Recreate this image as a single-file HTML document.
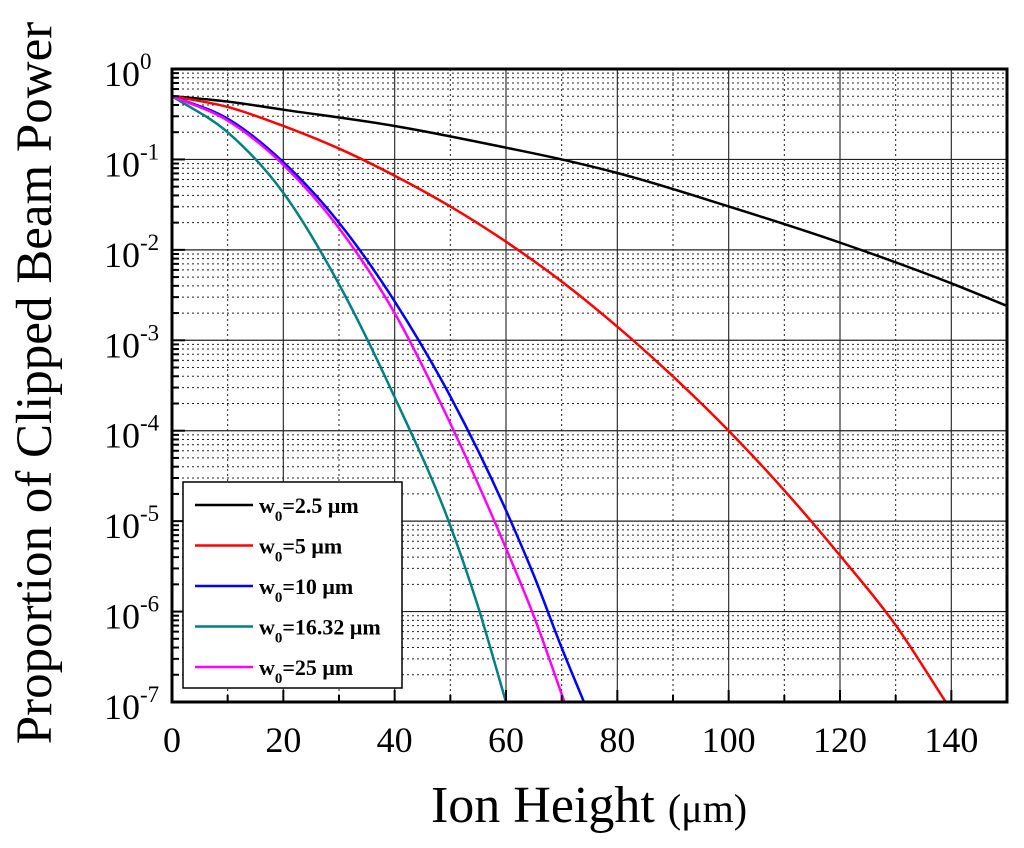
<!DOCTYPE html>
<html><head><meta charset="utf-8"><style>
body{margin:0;background:#fff;}
svg text{font-family:"Liberation Serif",serif;}
</style></head><body>
<svg id="chart" width="1024" height="843" viewBox="0 0 1024 843" xmlns="http://www.w3.org/2000/svg">
<g id="grid"></g>
<g id="series"></g>
<g id="axes"></g>
<text x="589" y="822" text-anchor="middle" font-size="52">Ion Height <tspan font-size="40">(μm)</tspan></text>
<text transform="translate(51,383) rotate(-90)" text-anchor="middle" font-size="51">Proportion of Clipped Beam Power</text>
<g id="legend"></g>
</svg>
<script>
const xTicks=[0,20,40,60,80,100,120,140];
const yDecades=[0,-1,-2,-3,-4,-5,-6,-7];
const seriesNames=["w0=2.5 μm","w0=5 μm","w0=10 μm","w0=16.32 μm","w0=25 μm"];
const legendLabels=["=2.5 μm","=5 μm","=10 μm","=16.32 μm","=25 μm"];
const seriesColors=["#000000","#ff0000","#0000ff","#008080","#ff00ff"];
const blackX=[0,10,20,40,60,70,80,100,120,140,150];
const blackY=[-0.3,-0.36,-0.45,-0.63,-0.87,-1.0,-1.15,-1.52,-1.92,-2.37,-2.62];
const redX=[0,10,20,30,40,50,60,70,80,90,100,110,120,130,139];
const redY=[-0.3,-0.42,-0.63,-0.88,-1.18,-1.52,-1.91,-2.35,-2.85,-3.4,-4.0,-4.66,-5.38,-6.15,-7];
const blueX=[0,10,20,30,40,50,60,65,70,74];
const blueY=[-0.3,-0.55,-1.03,-1.7,-2.57,-3.62,-4.88,-5.6,-6.4,-7];
const tealX=[0,10,20,30,40,50,55,60];
const tealY=[-0.3,-0.7,-1.37,-2.38,-3.63,-5.05,-5.95,-7];
const magX=[0,10,20,30,40,50,60,65,70.5];
const magY=[-0.3,-0.57,-1.06,-1.76,-2.7,-3.92,-5.3,-6.05,-7];
const seriesX=[blackX,redX,blueX,tealX,magX];
const seriesY=[blackY,redY,blueY,tealY,magY];

const L=172,R=1007,T=69,B=702;
const sx=v=>L+(v/150)*(R-L);
const sy=d=>T+(-d/7)*(B-T);
const NS="http://www.w3.org/2000/svg";
function mk(tag,attrs,parent){const e=document.createElementNS(NS,tag);for(const k in attrs)e.setAttribute(k,attrs[k]);parent.appendChild(e);return e;}
const grid=document.getElementById('grid'),axes=document.getElementById('axes'),ser=document.getElementById('series'),leg=document.getElementById('legend');
for(let v=10;v<150;v+=10){
  const major=v%20===0;
  const l=mk('line',{x1:sx(v),x2:sx(v),y1:T,y2:B,stroke:major?'#333':'#222','stroke-width':major?1.2:1,'stroke-dasharray':major?'none':'2,3'},grid);
  
  
}
for(let d=0;d>-7;d--){
  if(d<0){const l=mk('line',{x1:L,x2:R,y1:sy(d),y2:sy(d),stroke:'#222','stroke-width':1.2},grid);
  
  }
  for(let m=2;m<=9;m++){
    const y=sy(d-1+Math.log10(m));
    const l=mk('line',{x1:L,x2:R,y1:y,y2:y,stroke:'#222','stroke-width':1,'stroke-dasharray':'2,3'},grid);
    
    
    const t=mk('line',{x1:L,x2:L+7,y1:y,y2:y,stroke:'#000','stroke-width':2},axes);
    
    
  }
}
function path(xs,ys){
  const p=xs.map((x,i)=>[sx(x),sy(ys[i])]);
  const n=p.length,dx=[],m=[],t=[];
  for(let i=0;i<n-1;i++){dx[i]=p[i+1][0]-p[i][0];m[i]=(p[i+1][1]-p[i][1])/dx[i];}
  t[0]=m[0];t[n-1]=m[n-2];
  for(let i=1;i<n-1;i++){t[i]=(m[i-1]*dx[i]+m[i]*dx[i-1])/(dx[i-1]+dx[i]);}
  let d='M'+p[0][0]+','+p[0][1];
  for(let i=0;i<n-1;i++){
    const h=dx[i]/3;
    d+=` C${p[i][0]+h},${p[i][1]+t[i]*h} ${p[i+1][0]-h},${p[i+1][1]-t[i+1]*h} ${p[i+1][0]},${p[i+1][1]}`;
  }
  return d;
}
const clip=mk('clipPath',{id:'pc'},ser);mk('rect',{x:L,y:T,width:R-L,height:B-T},clip);
seriesX.forEach((xs,i)=>{
  const e=mk('path',{d:path(xs,seriesY[i]),fill:'none',stroke:seriesColors[i],'stroke-width':2.5,'clip-path':'url(#pc)'},ser);
  
  
});
const fr=mk('rect',{x:L,y:T,width:R-L,height:B-T,fill:'none',stroke:'#000','stroke-width':3},axes);


for(let v=10;v<150;v+=10){
  const t=mk('line',{x1:sx(v),x2:sx(v),y1:B,y2:B-(v%20===0?12:7),stroke:'#000','stroke-width':2},axes);
  
  
}
xTicks.forEach(v=>{
  const t=mk('text',{x:sx(v),y:B+50,'text-anchor':'middle','font-size':36},axes);t.textContent=v;
  
  
});
yDecades.forEach(d=>{
  const tk=mk('line',{x1:L,x2:L+13,y1:sy(d),y2:sy(d),stroke:'#000','stroke-width':2},axes);
  
  
  const t=mk('text',{x:104,y:sy(d)+17,'font-size':36},axes);
  
  
  t.innerHTML='10<tspan dy="-17" font-size="23">'+d+'</tspan>';
});
const lb=mk('rect',{x:183,y:482,width:219,height:206,fill:'#fff',stroke:'#000','stroke-width':1.5},leg);


legendLabels.forEach((s,i)=>{
  const y=505+i*40.5;
  const g=mk('g',{},leg);
  
  
  mk('line',{x1:195,x2:253,y1:y,y2:y,stroke:seriesColors[i],'stroke-width':2.5},g);
  const t=mk('text',{x:259,y:y+8,'font-size':22,'font-weight':'bold'},g);
  t.innerHTML='w<tspan dy="8" font-size="15">0</tspan><tspan dy="-8">'+s+'</tspan>';
});
</script>
</body></html>
